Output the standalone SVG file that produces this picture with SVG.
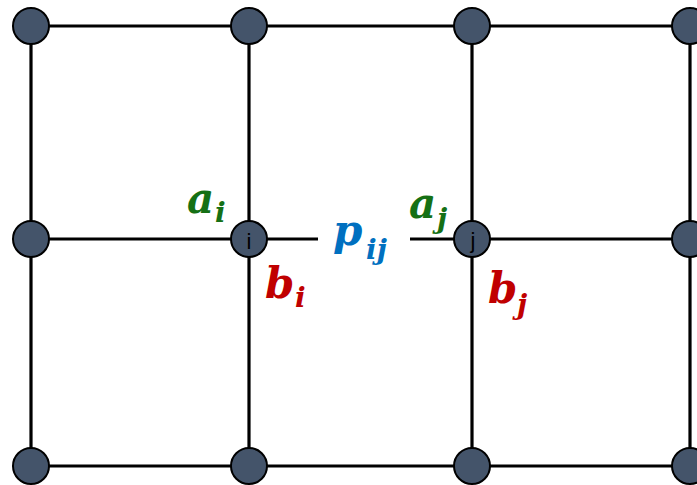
<svg xmlns="http://www.w3.org/2000/svg" width="697" height="485" viewBox="0 0 697 485">
<style>
.edge{stroke:#000;stroke-width:3.2;fill:none;stroke-linecap:butt}
.node{fill:#44546A;stroke:#000;stroke-width:2}
.nl{font-family:"Liberation Sans",Arial,sans-serif;font-size:22px;fill:#000;text-anchor:middle}
.m{font-family:"DejaVu Serif","Liberation Serif",serif;font-weight:bold;font-style:italic}
.g{fill:#157015}
.r{fill:#C00000}
.b{fill:#0070C0}
</style>
<rect width="697" height="485" fill="#fff"/>
<g id="connectors">
<line class="edge" x1="31" y1="26" x2="690" y2="26"/>
<line class="edge" x1="31" y1="466" x2="690" y2="466"/>
<line class="edge" x1="31" y1="239" x2="318" y2="239"/>
<line class="edge" x1="410" y1="239" x2="690" y2="239"/>
<line class="edge" x1="31" y1="26" x2="31" y2="466"/>
<line class="edge" x1="249" y1="26" x2="249" y2="466"/>
<line class="edge" x1="472" y1="26" x2="472" y2="466"/>
<line class="edge" x1="690" y1="26" x2="690" y2="466"/>
</g>
<g id="n00"><circle class="node" cx="31" cy="26" r="18"/></g>
<g id="n01"><circle class="node" cx="249" cy="26" r="18"/></g>
<g id="n02"><circle class="node" cx="472" cy="26" r="18"/></g>
<g id="n03"><circle class="node" cx="690" cy="26" r="18"/></g>
<g id="n10"><circle class="node" cx="31" cy="239" r="18"/></g>
<g id="node-i"><circle class="node" cx="249" cy="239" r="18"/><text class="nl" x="249" y="249">i</text></g>
<g id="node-j"><circle class="node" cx="472" cy="239" r="18"/><text class="nl" x="473" y="248">j</text></g>
<g id="n13"><circle class="node" cx="690" cy="239" r="18"/></g>
<g id="n20"><circle class="node" cx="31" cy="466" r="18"/></g>
<g id="n21"><circle class="node" cx="249" cy="466" r="18"/></g>
<g id="n22"><circle class="node" cx="472" cy="466" r="18"/></g>
<g id="n23"><circle class="node" cx="690" cy="466" r="18"/></g>
<g id="labels">
<text class="m g" x="187" y="213" font-size="42">a</text>
<text class="m g" x="215" y="222" font-size="28">i</text>
<text class="m r" x="265" y="298" font-size="42">b</text>
<text class="m r" x="295" y="307" font-size="28">i</text>
<text class="m b" x="333" y="245" font-size="42">p</text>
<text class="m b" x="366" y="259" font-size="28">ij</text>
<text class="m g" x="409" y="218" font-size="42">a</text>
<text class="m g" x="437" y="228" font-size="28">j</text>
<text class="m r" x="488" y="303" font-size="42">b</text>
<text class="m r" x="517" y="314" font-size="28">j</text>
</g>
</svg>
